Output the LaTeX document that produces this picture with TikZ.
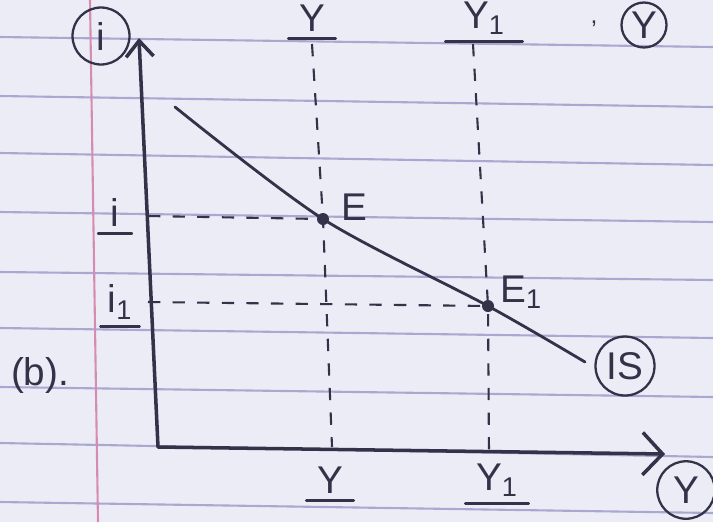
\documentclass[tikz,border=0pt]{standalone}
\usepackage{fontspec}
\setmainfont{Liberation Sans}
\usetikzlibrary{arrows.meta, positioning}

\definecolor{paper}{RGB}{236,236,247}
\definecolor{ruling}{RGB}{168,168,208}
\definecolor{margin}{RGB}{214,140,178}
\definecolor{ink}{RGB}{50,50,72}

\begin{document}
\begin{tikzpicture}[
  x=0.02cm, y=-0.02cm,
  pen/.style={draw=ink, line width=1.4pt, line cap=round, line join=round},
  axis/.style={pen, line width=2pt,
               {Straight Barb[length=3.2mm,width=5.5mm]}-{Straight Barb[length=4mm,width=8.5mm]}},
  guide/.style={pen, line width=1.2pt, line cap=butt, dash pattern=on 7pt off 7pt},
  lbl/.style={text=ink, font=\fontsize{22}{24}\selectfont, inner sep=2pt},
  ring/.style={lbl, draw=ink, circle, line width=1.3pt, inner sep=0pt},
  ul/.style={lbl, inner xsep=#1, inner ysep=4pt,
             append after command={(\tikzlastnode.south west) edge[pen] (\tikzlastnode.south east)}},
  ul/.default=8pt,
  dot/.style={circle, fill=ink, inner sep=0pt, minimum size=0.24cm}
]
  % Paper
  \useasboundingbox (0,0) rectangle (713,522);
  \clip (0,0) rectangle (713,522);
  \fill[paper] (0,0) rectangle (713,522);
  \foreach \ya/\yb in {37/47, 96/107, 153/165, 212/222, 272/280, 328/338, 387/397, 443/457, 502/513}
    \draw[ruling, line width=1.2pt] (0,\ya) -- (713,\yb);
  \draw[margin, line width=1.2pt] (90,0) -- (98,522);

  % Axes
  \coordinate (ytip) at (139,38);
  \coordinate (O) at (158,447);
  \coordinate (xtip) at (665,454);
  \draw[axis] (ytip) -- (O) -- (xtip);

  % Equilibrium points
  \node[dot] (E) at (323,219) {};
  \node[dot] (E1) at (488,306) {};

  % IS curve
  \coordinate (ISa) at (175,107);
  \coordinate (ISb) at (585,362);
  \draw[pen, line width=1.6pt] plot[smooth, tension=0.5]
    coordinates {(ISa) (E.center) (E1.center) (ISb)};

  % Guides
  \coordinate (iA) at (148,216);
  \coordinate (iB) at (148,302);
  \coordinate (YA) at (312,44);
  \coordinate (YB) at (332,447);
  \coordinate (Y1A) at (473,44);
  \coordinate (Y1B) at (489,454);
  \draw[guide] (iA) -- (E.center);
  \draw[guide] (iB) -- (E1.center);
  \draw[guide] (YA) -- (E.center) -- (YB);
  \draw[guide] (Y1A) -- (E1.center) -- (Y1B);

  % Labels
  \node[ring, minimum size=1.14cm] (iaxis) at (101,36) {i};
  \node[ring, minimum size=1.15cm] (yaxis) at (686,490) {Y};
  \node[ring, minimum size=0.9cm] (ytop) at (644,25) {Y};
  \node[lbl, font=\fontsize{14}{16}\selectfont] (comma) at (594,24) {,};
  \node[ring, minimum size=1.18cm] (islbl) at (625,366) {IS};
  \node[lbl, above right=-0.2cm and 0.2cm of E] (Elbl) {E};
  \node[lbl, above right=-0.22cm and 0.08cm of E1] (E1lbl) {E\textsubscript{1}};
  \node[ul=7pt] (ilbl) at (115,212) {i};
  \node[ul=4pt] (i1lbl) at (120,302) {i\textsubscript{1}};
  \node[lbl] (blbl) at (40,375) {(b).};
  \node[ul=6pt] (Ylbl) at (330,480) {Y};
  \node[ul=6pt] (Y1lbl) at (497,480) {Y\textsubscript{1}};
  \node[ul=6pt] (Ytoplbl) at (312,18) {Y};
  \node[ul=10pt] (Y1toplbl) at (484,18) {Y\textsubscript{1}};
\end{tikzpicture}
\end{document}
